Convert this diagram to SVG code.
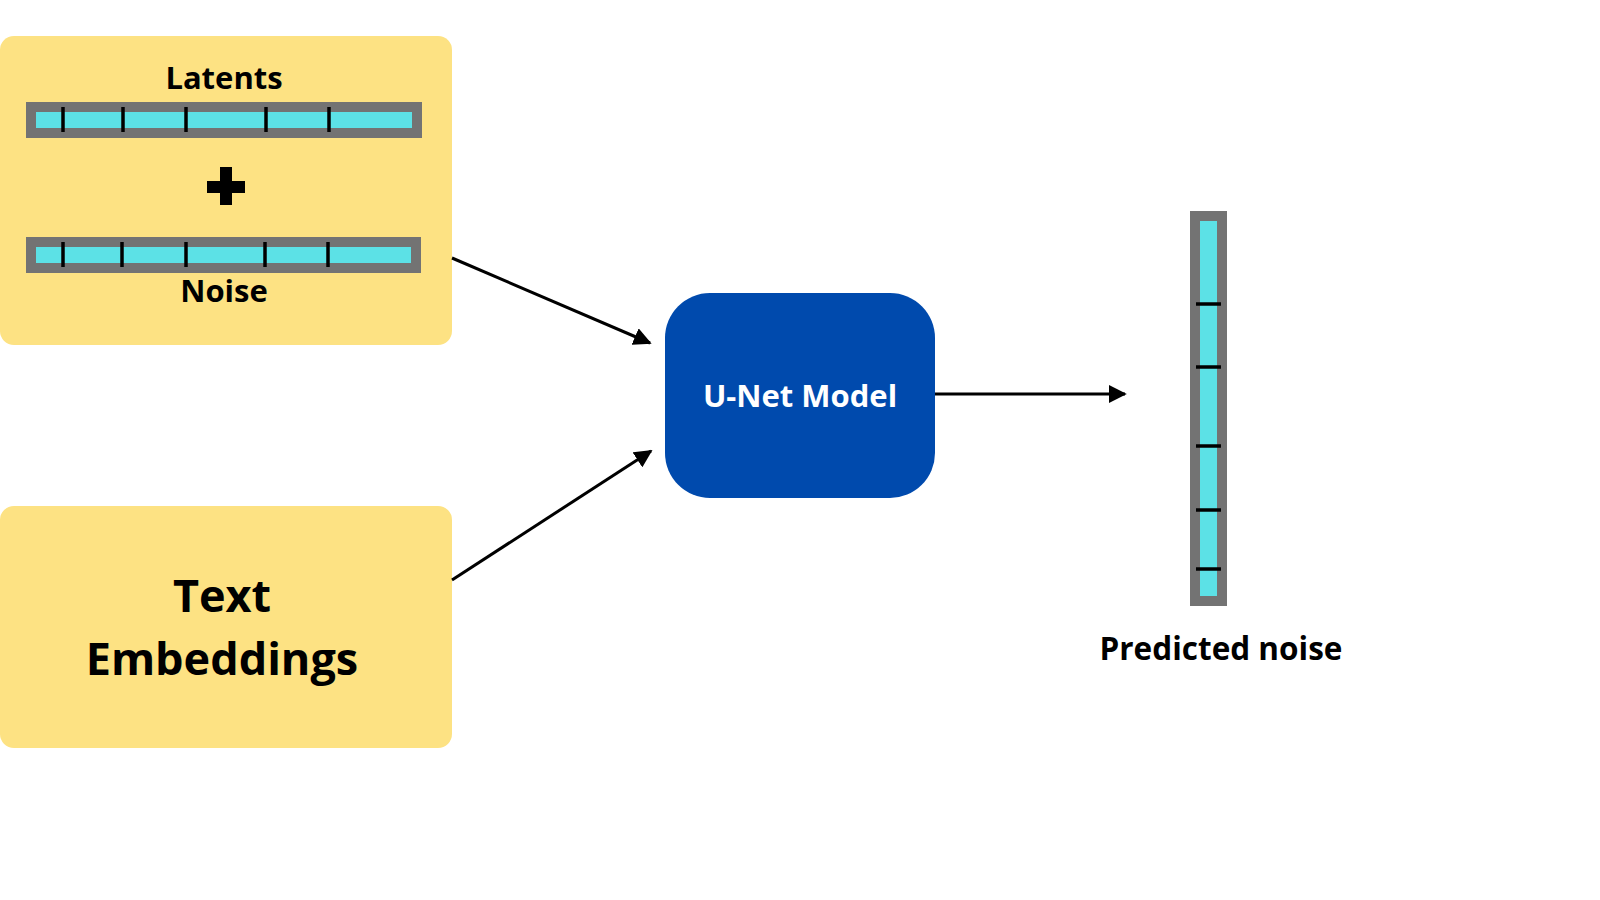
<svg xmlns="http://www.w3.org/2000/svg" width="1600" height="900" viewBox="0 0 1600 900">
<defs>
<style>
.panel{fill:#FDE283}
.bar{fill:#737373}
.cell{fill:#5CE1E6}
.tick{stroke:#000;stroke-width:3.5}
.lbl{font-family:"Open Sans","Noto Sans",sans-serif;font-weight:700;fill:#000;text-anchor:middle}
.edge{stroke:#000;stroke-width:3;fill:none}
</style>
<marker id="ah" viewBox="0 0 10 10" refX="9" refY="5" markerWidth="6" markerHeight="6" orient="auto" markerUnits="strokeWidth">
<path d="M0,0 L10,5 L0,10 Z" fill="#000"/>
</marker>
</defs>
<rect width="1600" height="900" fill="#fff"/>
<g id="latents-noise">
<rect class="panel" x="0" y="36" width="452" height="309" rx="14"/>
<text class="lbl" x="224" y="89" font-size="31">Latents</text>
<rect class="bar" x="26" y="102" width="396" height="36"/>
<rect class="cell" x="36" y="112" width="376" height="16"/>
<g class="tick">
<line x1="63" y1="107" x2="63" y2="132"/><line x1="123" y1="107" x2="123" y2="132"/><line x1="186" y1="107" x2="186" y2="132"/><line x1="266" y1="107" x2="266" y2="132"/><line x1="329" y1="107" x2="329" y2="132"/>
</g>
<rect x="207" y="181" width="38" height="12" fill="#000"/>
<rect x="220" y="167" width="12" height="38" fill="#000"/>
<rect class="bar" x="26" y="237" width="395" height="36"/>
<rect class="cell" x="36" y="247" width="375" height="16"/>
<g class="tick">
<line x1="63" y1="242" x2="63" y2="267"/><line x1="122" y1="242" x2="122" y2="267"/><line x1="186" y1="242" x2="186" y2="267"/><line x1="265" y1="242" x2="265" y2="267"/><line x1="328" y1="242" x2="328" y2="267"/>
</g>
<text class="lbl" x="224" y="302" font-size="31">Noise</text>
</g>
<g id="text-embeddings">
<rect class="panel" x="0" y="506" width="452" height="242" rx="14"/>
<text class="lbl" x="222" y="612" font-size="45">Text</text>
<text class="lbl" x="222" y="675" font-size="45">Embeddings</text>
</g>
<g id="unet">
<rect x="665" y="293" width="270" height="205" rx="45" fill="#004AAD"/>
<text class="lbl" x="800" y="407" font-size="31" style="fill:#fff">U-Net Model</text>
</g>
<g id="predicted-noise">
<rect class="bar" x="1190" y="211" width="37" height="395"/>
<rect class="cell" x="1200" y="221" width="17" height="375"/>
<g class="tick">
<line x1="1196" y1="304" x2="1221" y2="304"/><line x1="1196" y1="367" x2="1221" y2="367"/><line x1="1196" y1="446" x2="1221" y2="446"/><line x1="1196" y1="510" x2="1221" y2="510"/><line x1="1196" y1="569" x2="1221" y2="569"/>
</g>
<text class="lbl" x="1221" y="660" font-size="31.5">Predicted noise</text>
</g>
<g id="connectors">
<line class="edge" x1="452" y1="258" x2="650" y2="343" marker-end="url(#ah)"/>
<line class="edge" x1="452" y1="580" x2="651" y2="451" marker-end="url(#ah)"/>
<line class="edge" x1="935" y1="394" x2="1125" y2="394" marker-end="url(#ah)"/>
</g>
</svg>
